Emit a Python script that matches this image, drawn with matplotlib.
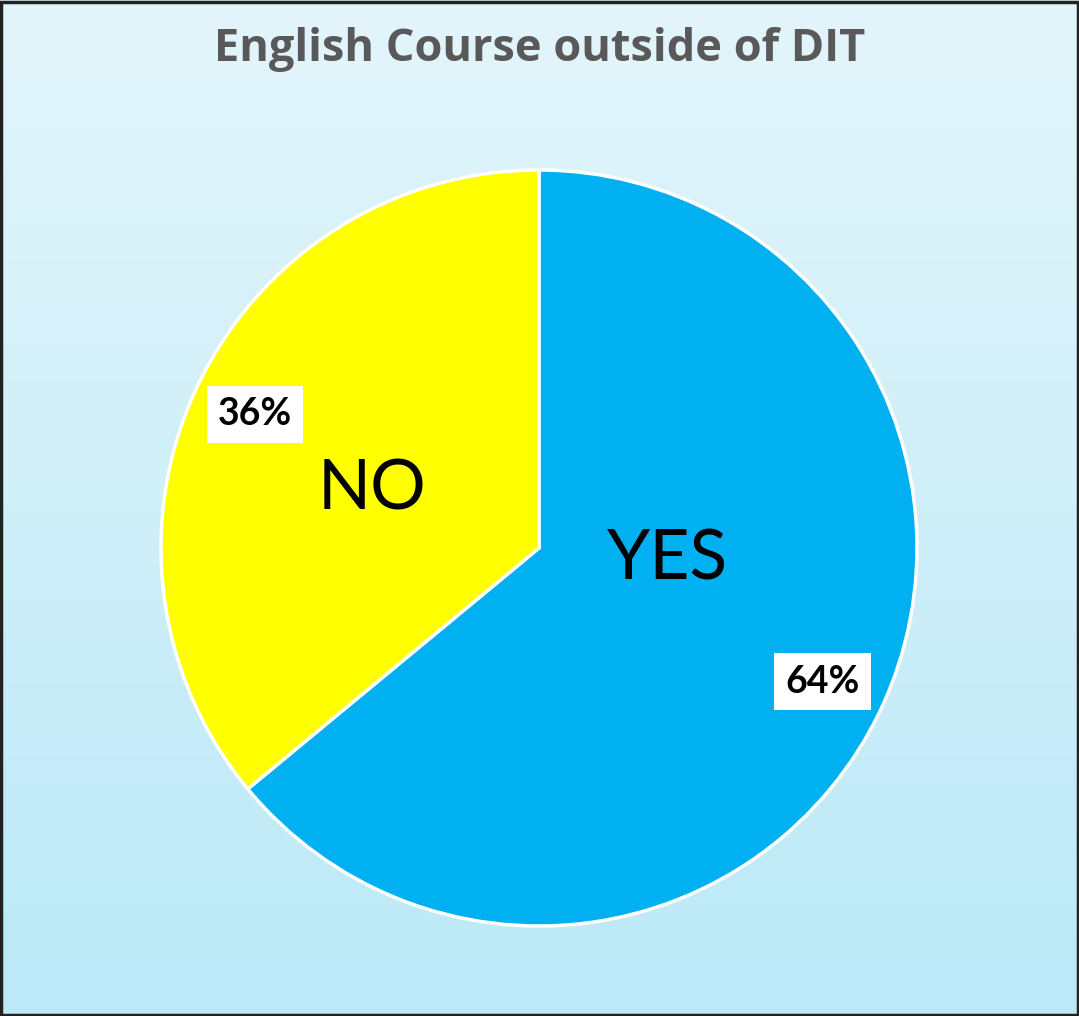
import numpy as np
import matplotlib.pyplot as plt
from matplotlib.patches import Rectangle

labels = ["YES", "NO"]
shares = [64, 36]
colors = ["#00b0f0", "#ffff00"]
title = "English Course outside of DIT"

W, H = 1079, 1016
fig = plt.figure(figsize=(W / 100, H / 100), dpi=100)

# gradient background
bg = fig.add_axes([0, 0, 1, 1], zorder=0)
grad = np.linspace(0, 1, 256).reshape(-1, 1)
top = np.array([0.890, 0.961, 0.984])
bot = np.array([0.733, 0.914, 0.969])
img = top + (bot - top) * grad[:, :, None]
bg.imshow(img, aspect="auto", extent=[0, 1, 0, 1])
bg.set_axis_off()
fig.patches.append(Rectangle((0.001, 0.001), 0.998, 0.997, transform=fig.transFigure,
                             fill=False, edgecolor="#222222", linewidth=2.5, zorder=10))

# pie axes: centre (539, 548) px, radius 378 px
cx, cy, r = 539, 548, 378
ax = fig.add_axes([(cx - r) / W, (H - cy - r) / H, 2 * r / W, 2 * r / H], zorder=1)
wedges, texts, autotexts = ax.pie(
    shares, colors=colors, startangle=90, counterclock=False,
    autopct="%d%%", pctdistance=0.83,
    wedgeprops=dict(edgecolor="white", linewidth=2.5, clip_on=False),
    textprops=dict(family="Lato", fontweight="bold", fontsize=27, color="black"))
for t in autotexts:
    t.set_bbox(dict(facecolor="white", edgecolor="none", boxstyle="square,pad=0.3"))
ax.set_xlim(-1.0, 1.0)
ax.set_ylim(-1.0, 1.0)
ax.set_aspect("equal")
ax.set_axis_off()

ax.text(0.341, -0.032, labels[0], ha="center", va="center", fontsize=50, family="Lato")
ax.text(-0.442, 0.153, labels[1], ha="center", va="center", fontsize=50, family="Lato")

fig.text(0.5, 0.951, title, ha="center", va="center", fontsize=32.5,
         fontweight="bold", color="#595959", family="Open Sans")

fig.savefig("out.png", dpi=100)
